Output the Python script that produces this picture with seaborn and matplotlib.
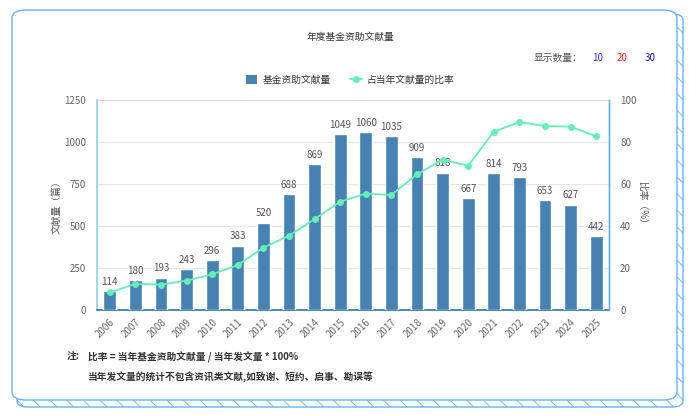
import matplotlib
matplotlib.use("Agg")
import matplotlib.pyplot as plt
import seaborn as sns
import numpy as np
import pandas as pd
from matplotlib.patches import FancyBboxPatch, Patch
from matplotlib.lines import Line2D

years = [str(y) for y in range(2006, 2026)]
counts = [114, 180, 193, 243, 296, 383, 520, 688, 869, 1049, 1060, 1035, 909, 818, 667, 814, 793, 653, 627, 442]
ratios = [8.4, 12.4, 12.1, 14.0, 17.0, 21.4, 29.7, 35.4, 43.3, 51.6, 55.4, 54.8, 64.6, 71.6, 68.7, 84.9, 89.5, 87.6, 87.3, 82.7]
left_ticks = [0, 250, 500, 750, 1000, 1250]
right_ticks = [0, 20, 40, 60, 80, 100]

sns.set_theme(style="white")
plt.rcParams['font.family'] = ['Noto Sans CJK SC', 'DejaVu Sans']
plt.rcParams['hatch.linewidth'] = 0.6
plt.rcParams['hatch.color'] = "#66b3f5"

W, H = 700, 416
fig = plt.figure(figsize=(7, 4.16), dpi=100)

def fx(px):
    return px / W

def fy(py):
    return 1 - py / H

# card shadow (hatched) and card
shadow = FancyBboxPatch((fx(17), fy(407)), fx(683 - 17), (407 - 14) / H,
                        boxstyle="round,pad=0,rounding_size=0.015",
                        transform=fig.transFigure, facecolor="white",
                        edgecolor="#66b3f5", hatch="\\\\", linewidth=1.0, zorder=0)
fig.patches.append(shadow)
card = FancyBboxPatch((fx(12), fy(400)), fx(677 - 12), (400 - 10) / H,
                      boxstyle="round,pad=0,rounding_size=0.02",
                      transform=fig.transFigure, facecolor="white",
                      edgecolor="#66b3f5", linewidth=1.0, zorder=1)
fig.patches.append(card)

df = pd.DataFrame({"year": years, "count": counts, "ratio": ratios})

ax = fig.add_axes([fx(97), fy(310), fx(609 - 97), (310 - 100) / H])
ax.set_zorder(3)
ax.patch.set_alpha(0)
sns.barplot(data=df, x="year", y="count", ax=ax, color="#4682b4", saturation=1,
            width=0.5, zorder=3)
ax.set_ylim(0, 1250)
ax.set_yticks(left_ticks)
ax.set_yticklabels([str(t) for t in left_ticks], fontsize=7, color="#666666")
ax.tick_params(axis="y", length=0, pad=8)
ax.grid(axis="y", color="#e6e6e6", linewidth=0.8, zorder=0)
ax.set_axisbelow(True)
ax.set_xlabel("")
ax.set_ylabel("文献量（篇）", fontsize=7, color="#555555", labelpad=2)
for c in ax.containers:
    ax.bar_label(c, labels=[str(v) for v in counts], fontsize=7, color="#555555", padding=3)
ax.set_xticks(range(len(years)))
ax.set_xticklabels(years, rotation=45, ha="right", rotation_mode="anchor",
                   fontsize=7, color="#666666")
ax.tick_params(axis="x", length=0, pad=5)
ax.set_xticks(np.arange(-0.5, len(years), 1.0), minor=True)
ax.tick_params(axis="x", which="minor", length=4, color="#3d7fa8", width=0.8, direction="out")
ax.spines["top"].set_color("#d9d9d9")
ax.spines["top"].set_linewidth(0.8)
ax.spines["bottom"].set_color("#2f75a0")
ax.spines["bottom"].set_linewidth(1.2)
ax.spines["left"].set_color("#8fd3ea")
ax.spines["left"].set_linewidth(1.2)
ax.spines["right"].set_color("#5cb4ec")
ax.spines["right"].set_linewidth(1.0)
ax.set_xlim(-0.5, len(years) - 0.5)

ax2 = ax.twinx()
sns.pointplot(data=df, x="year", y="ratio", ax=ax2, color="#63efb5",
              markers="o", markersize=4, linewidth=1.3, native_scale=False)
ax2.set_xlim(-0.5, len(years) - 0.5)
ax2.set_ylim(0, 100)
ax2.set_yticks(right_ticks)
ax2.set_yticklabels([str(t) for t in right_ticks], fontsize=7, color="#666666")
ax2.tick_params(axis="y", length=0, pad=8)
ax2.set_ylabel("比率（%）", fontsize=7, color="#555555", rotation=-90, labelpad=8)
ax2.set_xlabel("")
for s in ["top", "left", "bottom"]:
    ax2.spines[s].set_visible(False)
ax2.spines["right"].set_color("#5cb4ec")
ax2.spines["right"].set_linewidth(1.0)
ax2.grid(False)

# title and controls
fig.text(fx(350), fy(37), "年度基金资助文献量", fontsize=7, color="#333333", ha="center", va="center")
fig.text(fx(582), fy(58), "显示数量：", fontsize=7, color="#555555", ha="right", va="center")
fig.text(fx(598), fy(58), "10", fontsize=7, color="#3333ff", ha="center", va="center")
fig.text(fx(622), fy(58), "20", fontsize=7, color="#ff2222", ha="center", va="center")
fig.text(fx(650), fy(58), "30", fontsize=7, color="#1a1aa6", ha="center", va="center")

handles = [Patch(facecolor="#4682b4", edgecolor="none"),
           Line2D([0], [0], color="#63efb5", marker="o", markersize=4, linewidth=1.3)]
fig.legend(handles, ["基金资助文献量", "占当年文献量的比率"], loc="center",
           bbox_to_anchor=(fx(350), fy(80)), ncol=2, frameon=False, fontsize=7,
           handlelength=1.2, handleheight=1.0, columnspacing=2.0, handletextpad=0.5,
           labelcolor="#333333")

fig.text(fx(67), fy(357), "注:", fontsize=7, color="#333333", ha="left", va="center", fontweight="bold")
fig.text(fx(88), fy(357), "比率 = 当年基金资助文献量 / 当年发文量 * 100%", fontsize=7,
         color="#333333", ha="left", va="center", fontweight="bold")
fig.text(fx(88), fy(377), "当年发文量的统计不包含资讯类文献,如致谢、短约、启事、勘误等", fontsize=7,
         color="#333333", ha="left", va="center", fontweight="bold")

fig.savefig("out.png", dpi=100)
